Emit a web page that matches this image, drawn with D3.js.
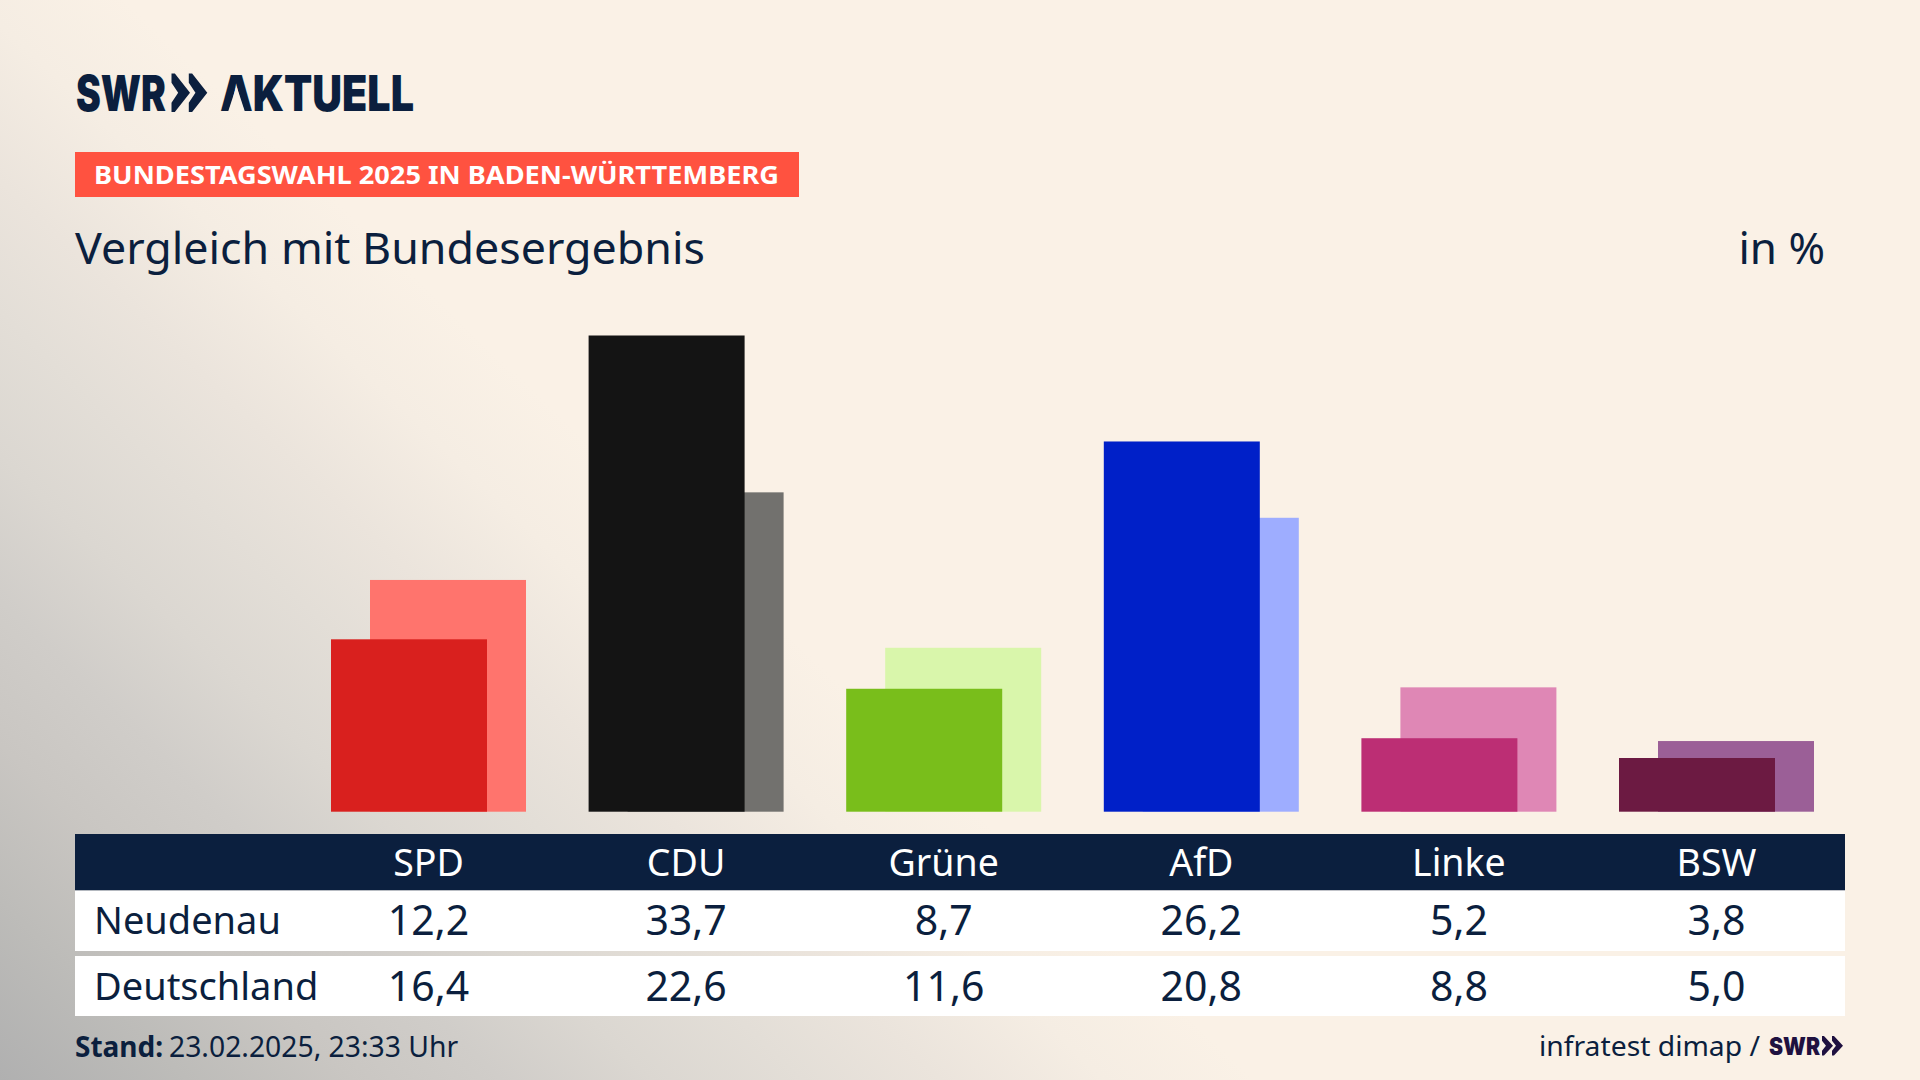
<!DOCTYPE html>
<html lang="de"><head><meta charset="utf-8">
<style>html,body{margin:0;padding:0;background:#FAF1E6;overflow:hidden}svg{display:block}text{font-family:"Noto Sans",sans-serif;fill:#0B1F3E}.logo{font-family:Inter,"Noto Sans",sans-serif}</style>
<script src="https://cdn.jsdelivr.net/npm/d3@7/dist/d3.min.js"></script>
</head><body><svg id="c" width="1920" height="1080"></svg>
<script>
const parties = ["SPD","CDU","Grüne","AfD","Linke","BSW"];
const neudenau = [12.2,33.7,8.7,26.2,5.2,3.8];
const deutschland = [16.4,22.6,11.6,20.8,8.8,5.0];
const frontColors = ["#D9201E","#141414","#79BE1B","#0020C8","#BC2E74","#6C1A42"];
const backColors = ["#FF746D","#72716E","#D9F6AB","#9EADFF","#DF87B5","#9B5F97"];
const rowNames = ["Neudenau","Deutschland"];

const NAVY="#0B1F3E";
const svg=d3.select("#c");
const defs=svg.append("defs");
const g=defs.append("linearGradient").attr("id","bg").attr("gradientUnits","userSpaceOnUse")
  .attr("x1",599.4).attr("y1",453).attr("x2",0).attr("y2",1080);
[[0,"#FAF1E6"],[.12,"#f5ede3"],[.25,"#ebe4dc"],[.36,"#e3ded7"],[.48,"#dbd7d1"],[.6,"#d0cdc9"],[.72,"#c9c6c2"],[.85,"#bdbcb9"],[1,"#b0b0b0"]].forEach(s=>g.append("stop").attr("offset",s[0]).attr("stop-color",s[1]));
svg.append("rect").attr("width",1920).attr("height",1080).attr("fill","url(#bg)");

function label(parent,t,x,y,size,opt={}){
  const n=parent.append("text").attr("x",x).attr("y",y).attr("font-size",size).text(t)
    .attr("text-anchor",opt.anchor||"start").attr("font-weight",opt.weight||400);
  if(opt.fill)n.style("fill",opt.fill);
  if(opt.cls)n.attr("class",opt.cls);
  if(opt.len)n.attr("textLength",opt.len).attr("lengthAdjust","spacingAndGlyphs");
  return n;
}
function chevrons(x,y,h,w,gap,fill){
  [0,gap].forEach(dx=>{
    const x0=x+dx, m=y+h/2;
    const p=[[x0,y],[x0+w*.18,y],[x0+w,m],[x0+w*.18,y+h],[x0,y+h],[x0,y+h*.76],[x0+w*.36,m],[x0,y+h*.24]];
    svg.append("path").attr("d",d3.line()(p)+"Z").attr("fill",fill);
  });
}

// header
label(svg,"SWR",76,110.5,49,{weight:900,len:90,cls:"logo"});
chevrons(171.5,73.5,38.5,18.5,17.3,NAVY);
defs.append("clipPath").attr("id","noBar").append("path").attr("clip-rule","evenodd")
  .attr("d","M200 60H440V120H200Z M236.5 86L228 112H245Z");
label(svg,"AKTUELL",220,110.5,49,{weight:900,len:194,cls:"logo"}).attr("clip-path","url(#noBar)");

svg.append("rect").attr("x",75).attr("y",152).attr("width",724).attr("height",45).attr("fill","#FF5240");
label(svg,"BUNDESTAGSWAHL 2025 IN BADEN-WÜRTTEMBERG",94,184,25,{weight:700,fill:"#fff",len:685});
label(svg,"Vergleich mit Bundesergebnis",75,264,43,{len:630});
label(svg,"in %",1825,264,44,{anchor:"end"});

// bars
const x=d3.scalePoint().domain(parties).range([428.5,1716.5]);
const y=d3.scaleLinear().domain([0,33.7]).range([811.7,335.5]);
const BW=156, OFF=19.5;
const rows=parties.map((p,i)=>({p,a:neudenau[i],b:deutschland[i],fc:frontColors[i],bc:backColors[i]}));
svg.append("g").selectAll("rect").data(rows).join("rect")
  .attr("x",d=>x(d.p)-BW/2+OFF).attr("y",d=>y(d.b)).attr("width",BW).attr("height",d=>y(0)-y(d.b)).attr("fill",d=>d.bc);
svg.append("g").selectAll("rect").data(rows).join("rect")
  .attr("x",d=>x(d.p)-BW/2-OFF).attr("y",d=>y(d.a)).attr("width",BW).attr("height",d=>y(0)-y(d.a)).attr("fill",d=>d.fc);

// table
const TL=75,TW=1770;
svg.append("rect").attr("x",TL).attr("y",834).attr("width",TW).attr("height",56.5).attr("fill",NAVY);
svg.append("rect").attr("x",TL).attr("y",890.5).attr("width",TW).attr("height",60.5).attr("fill","#fff");
svg.append("rect").attr("x",TL).attr("y",956).attr("width",TW).attr("height",60).attr("fill","#fff");
const fmt=d3.formatLocale({decimal:",",thousands:".",grouping:[3],currency:["","€"]}).format(".1f");
parties.forEach(p=>label(svg,p,x(p),876,37.5,{anchor:"middle",fill:"#fff"}));
[[neudenau,935],[deutschland,1000.5]].forEach(([vals,by],r)=>{
  label(svg,rowNames[r],94,by-1,38);
  vals.forEach((v,i)=>label(svg,fmt(v),x(parties[i]),by,41,{anchor:"middle"}));
});

// footer
label(svg,"Stand:",75,1057,28,{weight:700});
label(svg,"23.02.2025, 23:33 Uhr",169,1057,28.3);
label(svg,"infratest dimap /",1539,1056,28,{len:221});
label(svg,"SWR",1769,1055,24,{weight:900,fill:"#1F1140",len:51,cls:"logo"});
chevrons(1822,1036,19.5,11,10,"#1F1140");
</script></body></html>
